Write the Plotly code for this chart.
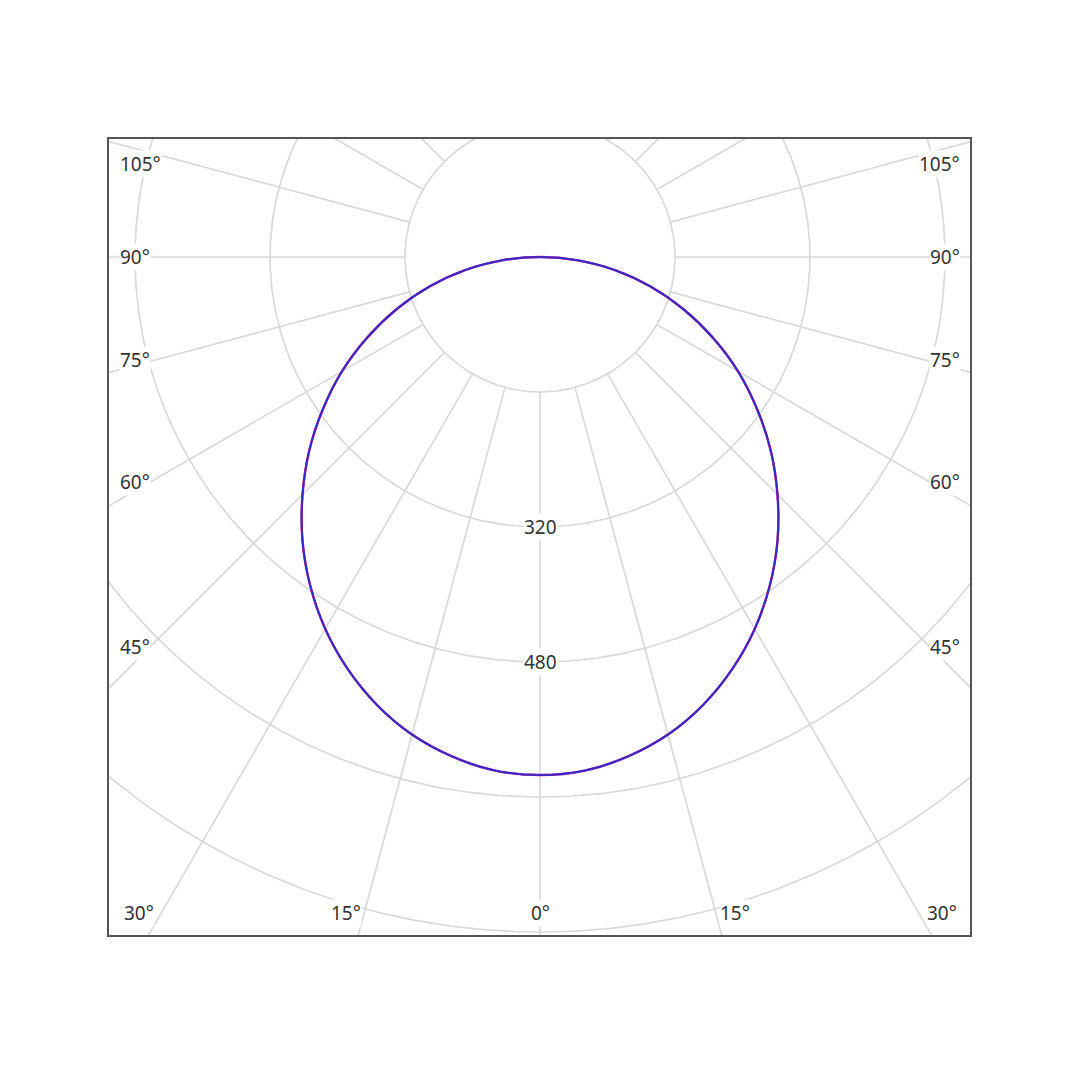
import numpy as np
import plotly.graph_objects as go

# Luminous intensity (cd) vs angle from nadir (deg)
angles = [0, 5, 10, 15, 20, 25, 30, 35, 40, 45, 50, 55, 60, 65, 70, 75, 80, 85, 90]
c0_c180 = [614, 611, 601, 586, 565, 539, 509, 475, 438, 398, 357, 314, 271, 226, 181, 136, 91, 45, 0]
c90_c270 = [614, 611, 601, 586, 565, 539, 509, 475, 438, 398, 357, 314, 271, 226, 181, 136, 91, 45, 0]

ring_values = [160, 320, 480, 640, 800]
ring_labels = ["320", "480"]
ray_step = 15

side_labels = ["105°", "90°", "75°", "60°", "45°"]
bottom_labels = ["30°", "15°", "0°", "15°", "30°"]

W = H = 1080
OFF = 8  # default page margin of the browser
ML, MR, MT, MB = 109 - OFF, 110 + OFF, 139 - OFF, 145 + OFF
PW, PH = W - ML - MR, H - MT - MB
PX_PER_CD = 135 / 160
CX, CY = 540 - OFF, 257 - OFF  # pole position in figure pixels


def to_paper(px, py):
    # px, py given in page pixels
    px -= OFF
    py -= OFF
    return (px - ML) / PW, 1 - (py - MT) / PH


x_range = [-(CX - ML) / PX_PER_CD, (ML + PW - CX) / PX_PER_CD]
y_top = (CY - MT) / PX_PER_CD
y_range = [y_top - PH / PX_PER_CD, y_top]

fig = go.Figure()

grid_col = "#d9d9d9"
t = np.linspace(0, 2 * np.pi, 721)
for r in ring_values:
    fig.add_trace(go.Scatter(x=r * np.sin(t), y=-r * np.cos(t), mode="lines",
                             line=dict(color=grid_col, width=1.7),
                             hoverinfo="skip", showlegend=False))
for a in range(0, 360, ray_step):
    th = np.deg2rad(a)
    rr = np.array([ring_values[0], 1200])
    fig.add_trace(go.Scatter(x=rr * np.sin(th), y=-rr * np.cos(th), mode="lines",
                             line=dict(color=grid_col, width=1.7),
                             hoverinfo="skip", showlegend=False))


def full_curve(vals):
    a = np.array(angles, dtype=float)
    v = np.array(vals, dtype=float)
    aa = np.concatenate([-a[::-1], a[1:]])
    vv = np.concatenate([v[::-1], v[1:]])
    th = np.deg2rad(aa)
    return vv * np.sin(th), -vv * np.cos(th)


x1, y1 = full_curve(c0_c180)
x2, y2 = full_curve(c90_c270)
fig.add_trace(go.Scatter(x=x1, y=y1, mode="lines", line=dict(color="#c8207e", width=2.4, shape="spline"),
                         name="C0-C180", showlegend=False))
fig.add_trace(go.Scatter(x=x2, y=y2, mode="lines", line=dict(color="#3828cc", width=2.0, shape="spline"),
                         name="C90-C270", showlegend=False))

font = dict(family="Noto Sans, DejaVu Sans, sans-serif", size=19, color="#333333")
ann = []
for lab in ring_labels:
    v = float(lab)
    ann.append(dict(x=0, y=-v, xref="x", yref="y", text=lab, showarrow=False,
                    font=font, bgcolor="white", borderpad=0, xanchor="center", yanchor="middle"))

side_y = [164, 257, 360, 482, 647]
for lab, py in zip(side_labels, side_y):
    px_, py_ = to_paper(119, py)
    ann.append(dict(x=px_, y=py_, xref="paper", yref="paper", text=lab, showarrow=False,
                    font=font, bgcolor="white", borderpad=0, xanchor="left", yanchor="middle"))
    px_, py_ = to_paper(961, py)
    ann.append(dict(x=px_, y=py_, xref="paper", yref="paper", text=lab, showarrow=False,
                    font=font, bgcolor="white", borderpad=0, xanchor="right", yanchor="middle"))

bottom_x = [(123, "left"), (346, "center"), (540, "center"), (735, "center"), (958, "right")]
for lab, (px, anc) in zip(bottom_labels, bottom_x):
    px_, py_ = to_paper(px, 913)
    ann.append(dict(x=px_, y=py_, xref="paper", yref="paper", text=lab, showarrow=False,
                    font=font, bgcolor="white", borderpad=0, xanchor=anc, yanchor="middle"))

axis_common = dict(showgrid=False, zeroline=False, showticklabels=False, ticks="",
                   showline=True, mirror=True, linecolor="#555555", linewidth=1.5, fixedrange=True)
fig.update_layout(
    width=W, height=H,
    margin=dict(l=ML, r=MR, t=MT, b=MB),
    paper_bgcolor="white", plot_bgcolor="white",
    xaxis=dict(range=x_range, **axis_common),
    yaxis=dict(range=y_range, **axis_common),
    annotations=ann,
)

fig.write_html("out.html")
